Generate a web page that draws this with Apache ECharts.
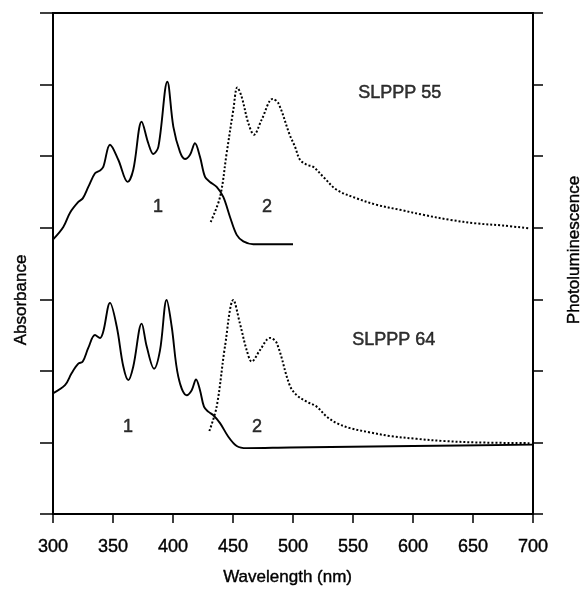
<!DOCTYPE html>
<html>
<head>
<meta charset="utf-8">
<script src="https://cdn.jsdelivr.net/npm/echarts@6/dist/echarts.min.js"></script>
<style>
html,body{margin:0;padding:0;background:#fff;}
#c{width:581px;height:591px;}
</style>
</head>
<body>
<div id="c"></div>
<script>
// Wavelength ticks
var xTicks = [300, 350, 400, 450, 500, 550, 600, 650, 700];

// SLPPP 55 absorbance (solid), [wavelength nm, value]
var abs55 = [
  [300.3,3.84],[308.6,4.01],[314.2,4.21],[321.1,4.36],[324.8,4.41],[329.4,4.57],[335,4.76],[339.2,4.80],
  [341.9,4.85],[347.5,5.16],[354.4,4.95],[362.2,4.64],[366.9,4.81],[373.9,5.48],[379.4,5.18],[383.6,5.03],
  [387.8,5.13],[395.3,6.04],[400.3,5.41],[405.8,5.06],[410,4.96],[414.2,5.02],[418.3,5.18],[422.5,4.99],
  [426.7,4.71],[430.8,4.64],[436.4,4.57],[441.9,4.43],[447.5,4.15],[453.1,3.90],[458.6,3.81],[466.9,3.77],
  [480,3.77],[500,3.77]
];
// SLPPP 55 photoluminescence (dotted)
var pl55 = [
  [431.4,4.08],[439.2,4.43],[444.7,5.04],[450.3,5.65],[453.6,5.96],[457.2,5.83],[462.8,5.46],[467.5,5.30],
  [473.9,5.51],[483.1,5.80],[487.8,5.74],[497.2,5.30],[501.7,5.13],[505.8,4.95],[511.4,4.88],[516.9,4.85],
  [525.3,4.71],[536.4,4.53],[553.1,4.41],[569.7,4.32],[589.2,4.25],[608.6,4.18],[630.8,4.11],[653.1,4.06],
  [675.3,4.03],[697.5,3.99]
];
// SLPPP 64 absorbance (solid)
var abs64 = [
  [300.3,1.69],[310,1.80],[315.6,1.97],[321.1,2.10],[324.8,2.13],[329.4,2.32],[335,2.50],[339.2,2.46],
  [341.9,2.55],[347.5,2.95],[353.1,2.62],[358.6,2.06],[362.8,1.87],[366.9,2.06],[373.9,2.66],[378.1,2.34],
  [384.2,2.03],[389.2,2.29],[394.7,2.99],[398.9,2.62],[404.4,1.92],[411.4,1.66],[415.6,1.73],[419.2,1.88],
  [422.5,1.73],[425.8,1.50],[429.4,1.43],[433.6,1.38],[439.2,1.27],[446.1,1.08],[453.1,0.95],[461.4,0.92],
  [497.5,0.93],[600,0.95],[700,0.97]
];
// SLPPP 64 photoluminescence (dotted)
var pl64 = [
  [430.3,1.16],[436.4,1.50],[443.3,2.34],[450.3,2.99],[455.8,2.66],[461.4,2.29],[465.6,2.13],[472.5,2.29],
  [480.8,2.46],[486.4,2.39],[497.2,1.80],[503.1,1.66],[511.4,1.57],[519.7,1.50],[528.1,1.36],[536.4,1.27],
  [547.5,1.20],[564.2,1.14],[580.8,1.09],[603.1,1.05],[625.3,1.02],[653.1,1.00],[697.5,0.99]
];
// Annotations [text, wavelength, value]
var notes = [
  ['SLPPP 55', 589, 5.88],
  ['SLPPP 64', 584, 2.43],
  ['1', 387.5, 4.29],
  ['2', 478.3, 4.29],
  ['1', 362.5, 1.22],
  ['2', 470, 1.22]
];

var FONT = 'Liberation Sans, Arial, sans-serif';
var chart = echarts.init(document.getElementById('c'), null, {renderer: 'canvas'});

function lineSeries(data, dotted) {
  return {
    type: 'line', data: data, showSymbol: false, symbol: 'none', smooth: 0.35,
    xAxisIndex: 0, yAxisIndex: 0, silent: true,
    lineStyle: {color: '#000', width: dotted ? 2 : 1.9, type: dotted ? [2, 2] : 'solid'}
  };
}

chart.setOption({
  animation: false,
  backgroundColor: '#fff',
  grid: {left: 53, right: 48, top: 13, bottom: 77, containLabel: false,
         show: true, borderColor: '#000', borderWidth: 2, backgroundColor: 'transparent'},
  xAxis: [{
    type: 'value', position: 'bottom', min: 300, max: 700, interval: 50,
    axisLine: {show: true, onZero: false, lineStyle: {color: '#000', width: 2}},
    axisTick: {show: true, inside: false, length: 9, lineStyle: {color: '#000', width: 1.5}},
    axisLabel: {color: '#000', fontSize: 18, fontFamily: FONT, margin: 24,
                textBorderColor: '#000', textBorderWidth: 0.4},
    splitLine: {show: false}
  }, {
    type: 'value', position: 'top', min: 300, max: 700, interval: 50,
    axisLine: {show: true, onZero: false, lineStyle: {color: '#000', width: 2}},
    axisTick: {show: false}, axisLabel: {show: false}, splitLine: {show: false}
  }],
  yAxis: [{
    type: 'value', position: 'left', min: 0, max: 7, interval: 1,
    axisLine: {show: true, onZero: false, lineStyle: {color: '#000', width: 1.6}},
    axisTick: {show: true, inside: false, length: 13, lineStyle: {color: '#000', width: 1.5}},
    axisLabel: {show: false}, splitLine: {show: false}
  }, {
    type: 'value', position: 'right', min: 0, max: 7, interval: 1,
    axisLine: {show: true, onZero: false, lineStyle: {color: '#000', width: 1.6}},
    axisTick: {show: true, inside: false, length: 10, lineStyle: {color: '#000', width: 1.5}},
    axisLabel: {show: false}, splitLine: {show: false}
  }],
  series: [
    lineSeries(abs55, false),
    lineSeries(pl55, true),
    lineSeries(abs64, false),
    lineSeries(pl64, true),
    {
      type: 'scatter', symbolSize: 0, silent: true,
      data: notes.map(function (n) { return {value: [n[1], n[2]], name: n[0]}; }),
      label: {show: true, position: 'inside', formatter: '{b}', color: '#000',
              fontSize: 18, fontFamily: FONT, textBorderColor: '#000', textBorderWidth: 0.5}
    }
  ],
  graphic: [
    {type: 'text', left: 293 - 70, top: 569,
     style: {text: 'Wavelength (nm)', font: '17px ' + FONT, fill: '#000', stroke: '#000', lineWidth: 0.4}},
    {type: 'text', x: 21, y: 300, rotation: Math.PI / 2,
     style: {text: 'Absorbance', font: '17px ' + FONT, fill: '#000', stroke: '#000', lineWidth: 0.4,
             align: 'center', verticalAlign: 'middle'}},
    {type: 'text', x: 574, y: 250, rotation: Math.PI / 2,
     style: {text: 'Photoluminescence', font: '17px ' + FONT, fill: '#000', stroke: '#000', lineWidth: 0.4,
             align: 'center', verticalAlign: 'middle'}}
  ]
});
</script>
</body>
</html>
